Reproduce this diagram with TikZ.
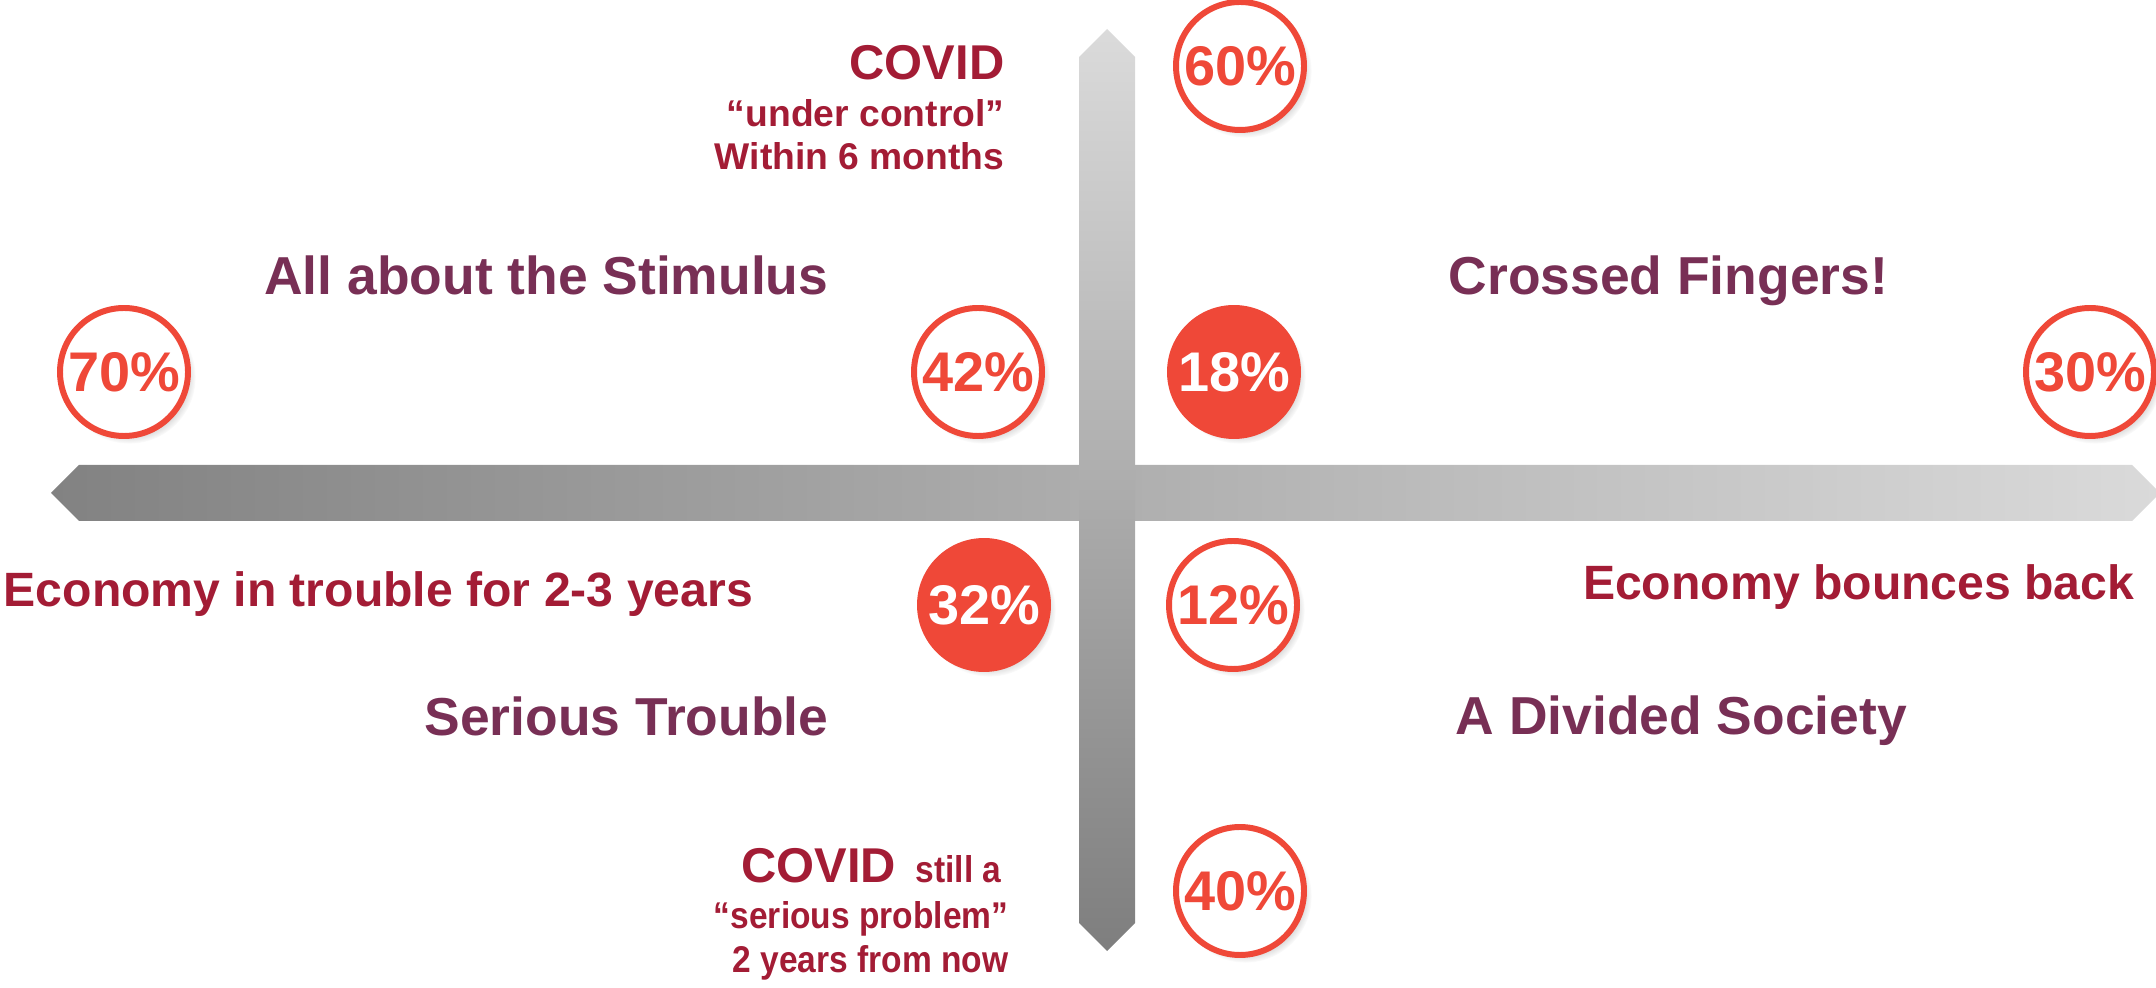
\documentclass[tikz,border=0pt]{standalone}
\usepackage{fontspec}
\setmainfont{Liberation Sans}
\newfontfamily\narrowfont[FakeStretch=0.9]{Liberation Sans}
\usetikzlibrary{shadows}

\definecolor{pctred}{HTML}{EF4838}
\definecolor{textred}{HTML}{A31C35}
\definecolor{quadpurple}{HTML}{782F55}
\definecolor{axisdark}{HTML}{828282}
\definecolor{axislight}{HTML}{DADADA}

\tikzset{
  pct/.style={circle, draw=pctred, line width=1.7pt, fill=white,
    minimum size=1.28cm, inner sep=0pt, text=pctred,
    font=\fontsize{15.9}{16}\selectfont\bfseries,
    circular drop shadow={shadow xshift=0.05cm, shadow yshift=-0.05cm,
      shadow scale=1.04, opacity=0.35}},
  pctfull/.style={pct, fill=pctred, text=white},
  quad/.style={text=quadpurple, inner sep=0pt,
    font=\fontsize{15.2}{16}\selectfont\bfseries},
  axislabel/.style={text=textred, inner sep=0pt,
    font=\fontsize{13.7}{14}\selectfont\bfseries},
  covidbig/.style={text=textred, inner sep=0pt,
    font=\fontsize{13.9}{14}\selectfont\bfseries},
  covidsmall/.style={text=textred, inner sep=0pt,
    font=\fontsize{10.6}{11}\selectfont\bfseries}
}

\begin{document}
\begin{tikzpicture}

    % Fix the page to the reference size
    \useasboundingbox (0,0) rectangle (21.56,9.87);

    % Centre of the two axes
    \coordinate (O) at (11.07,4.94);

    % Horizontal axis: economy (dark on the left, light on the right)
    \shade[left color=axisdark, right color=axislight]
      (0.51,4.94) -- (0.79,5.22) -- (21.32,5.22) -- (21.60,4.94)
      -- (21.32,4.66) -- (0.79,4.66) -- cycle;

    % Vertical axis: COVID (light at the top, dark at the bottom)
    \shade[top color=axislight!98!white, bottom color=axisdark!97!black]
      (11.07,9.58) -- (11.35,9.30) -- (11.35,0.64) -- (11.07,0.36)
      -- (10.79,0.64) -- (10.79,9.30) -- cycle;

    % Axis ends: COVID at the top
    \node[covidbig, anchor=base east] (covidtop) at (10.05,9.07) {COVID};
    \node[covidsmall, anchor=base east] (undercontrol) at (10.05,8.60) {“under control”};
    \node[covidsmall, anchor=base east] (sixmonths) at (10.05,8.17) {Within 6 months};

    % Axis ends: COVID at the bottom (narrow lettering)
    \node[covidbig, anchor=base east] (covidbottom) at (10.02,1.05)
      {COVID\hspace{0.4em}\fontsize{10.6}{11}\selectfont\narrowfont still a};
    \node[covidsmall, anchor=base east] (seriousproblem) at (10.09,0.59)
      {\narrowfont “serious problem”};
    \node[covidsmall, anchor=base east] (twoyears) at (10.09,0.14)
      {\narrowfont 2 years from now};

    % Axis ends: economy
    \node[axislabel, anchor=base west] (econtrouble) at (0.03,3.80)
      {Economy in trouble for 2-3 years};
    \node[axislabel, anchor=base east] (econback) at (21.35,3.87)
      {Economy bounces back};

    % Quadrant names
    \node[quad, anchor=base east] (stimulus) at (8.29,6.92) {All about the Stimulus};
    \node[quad, anchor=base west] (fingers) at (14.48,6.92) {Crossed Fingers!};
    \node[quad, anchor=base east] (trouble) at (8.29,2.51) {Serious Trouble};
    \node[quad, anchor=base west] (divided) at (14.55,2.52) {A Divided Society};

    % Percentages along the axes
    \node[pct] (p70) at (1.24,6.15) {70\%};
    \node[pct] (p30) at (20.90,6.15) {30\%};
    \node[pct] (p60) at (12.40,9.21) {60\%};
    \node[pct] (p40) at (12.40,0.96) {40\%};

    % Percentages of the quadrants
    \node[pct] (p42) at (9.78,6.15) {42\%};
    \node[pctfull] (p18) at (12.34,6.15) {18\%};
    \node[pctfull] (p32) at (9.84,3.82) {32\%};
    \node[pct] (p12) at (12.33,3.82) {12\%};

\end{tikzpicture}
\end{document}
